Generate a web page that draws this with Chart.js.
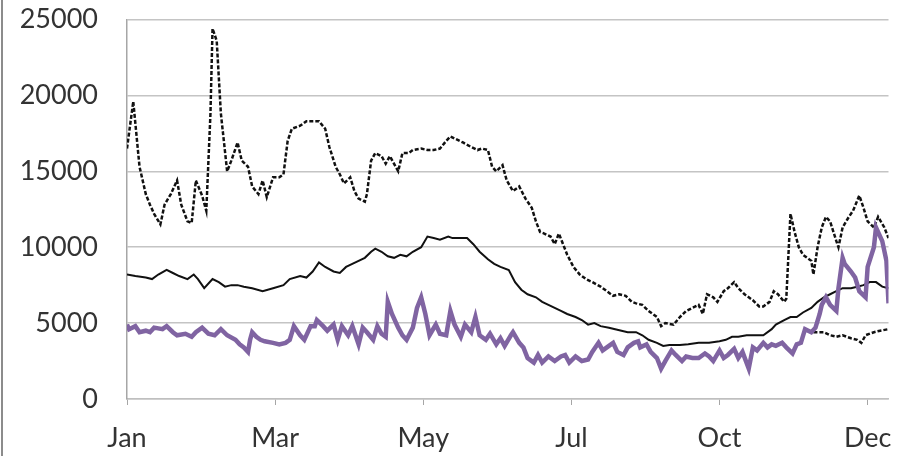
<!DOCTYPE html>
<html>
<head>
<meta charset="utf-8">
<script src="https://cdn.jsdelivr.net/npm/chart.js@4.4.0/dist/chart.umd.min.js"></script>
<style>
  html, body { margin: 0; padding: 0; background: #fff; }
  #wrap { position: relative; width: 912px; height: 456px; }
  #edge { position: absolute; left: 1px; top: 0; width: 2px; height: 456px; background: #8c8c8c; }
</style>
</head>
<body>
<div id="wrap">
  <canvas id="chart" width="912" height="456"></canvas>
  <div id="edge"></div>
</div>
<script>
// x axis: day of year, tick labels as printed
const tickDays = [0, 71, 142, 213, 284, 355];
const tickLabels = ['Jan', 'Mar', 'May', 'Jul', 'Oct', 'Dec'];

// upper dashed series
const dashedDays = [0,3,6,9,11,13,16,18,21,24,26,29,31,33,36,38,40,41,43,45,48,50,53,55,58,60,63,65,67,70,73,75,77,79,83,86,89,92,95,97,100,102,104,107,109,111,114,115,117,119,122,124,126,130,132,135,137,141,144,147,150,153,155,158,161,165,168,170,173,175,177,180,182,185,188,191,194,196,198,200,203,205,207,209,211,214,217,220,223,227,230,233,236,239,242,244,247,250,254,256,258,262,265,268,271,274,276,278,281,283,286,288,291,293,296,298,300,303,305,308,310,312,315,316,318,320,322,324,328,329,331,333,335,337,340,341,343,346,348,351,353,355,358,360,363,365];
const dashedValues = [16500,19600,15300,13500,12800,12200,11500,12800,13500,14400,12800,11700,11600,14400,13400,12400,18800,24400,23600,18800,15000,15700,16900,15700,15300,14000,13500,14400,13300,14600,14600,14800,17000,17800,18000,18300,18300,18300,17800,16600,15300,14800,14200,14600,13700,13200,13000,13500,15700,16200,16000,15500,16000,15000,16200,16200,16400,16500,16400,16400,16500,17000,17300,17100,16900,16600,16400,16500,16400,15300,15000,15400,14400,13700,14000,13200,12600,11700,11000,10900,10700,10200,10900,10200,9500,8700,8200,7900,7700,7400,7100,6800,6900,6800,6400,6300,6200,5800,5400,4800,5000,4900,5400,5800,6000,6200,5600,6900,6700,6400,7100,7300,7700,7300,6900,6700,6500,6100,6100,6400,7100,6900,6400,6600,12200,11000,10000,9500,9100,8200,10000,11300,12000,11700,10400,10000,11300,12000,12400,13400,12600,11700,11300,12000,11300,10600];

// solid black series
const solidDays = [0,4,9,12,15,19,22,25,29,32,34,37,41,44,47,50,53,56,60,65,70,75,78,83,86,89,92,95,99,102,105,108,111,114,117,119,122,125,128,131,134,137,141,144,147,150,154,156,160,163,166,169,173,176,179,183,186,189,192,196,199,202,205,208,211,215,218,221,224,227,231,234,237,240,244,247,250,254,257,260,265,269,274,279,284,287,290,293,297,301,305,309,311,315,318,321,324,328,331,334,337,340,343,347,350,353,356,359,362,365];
const solidValues = [8200,8100,8000,7900,8200,8500,8300,8100,7900,8200,7900,7300,7900,7700,7400,7500,7500,7400,7300,7100,7300,7500,7900,8100,8000,8400,9000,8700,8400,8300,8700,8900,9100,9300,9700,9900,9700,9400,9300,9500,9400,9700,10000,10700,10600,10500,10700,10600,10600,10600,10200,9700,9200,8900,8700,8500,7700,7200,6900,6700,6400,6200,6000,5800,5600,5400,5200,4900,5000,4800,4700,4600,4500,4400,4400,4200,3900,3700,3500,3550,3550,3600,3700,3700,3800,3900,4100,4100,4200,4200,4200,4600,4900,5200,5400,5400,5700,6000,6400,6700,6900,7100,7300,7300,7400,7500,7700,7700,7400,7300];

// purple series
const purpleDays = [0,1,4,6,9,11,13,17,19,22,24,28,31,33,36,39,42,45,48,52,54,56,58,59,60,62,64,66,70,73,76,78,80,83,85,88,90,91,94,96,99,101,103,106,108,111,113,115,118,120,122,124,125,127,130,132,134,137,139,141,143,145,148,150,153,155,157,160,162,165,167,169,172,174,177,179,181,184,185,188,190,192,195,197,199,202,205,208,210,212,215,218,221,223,226,228,231,233,235,238,240,243,245,246,249,251,254,256,258,261,263,266,268,271,274,277,279,281,284,286,288,291,293,295,298,300,302,305,307,309,311,314,316,319,321,323,325,328,330,332,333,335,337,340,341,343,344,347,349,351,354,355,358,359,362,364,365];
const purpleValues = [4900,4600,4800,4400,4500,4400,4700,4600,4800,4400,4200,4300,4100,4400,4700,4300,4200,4600,4200,3900,3600,3400,3100,3900,4400,4100,3900,3800,3700,3600,3700,3900,4800,4200,3900,4800,4800,5200,4800,4500,4900,3900,4800,4200,4800,3600,4700,4400,3900,4800,4300,4100,6400,5600,4700,4200,3900,4700,6000,6700,5600,4200,4900,4300,4200,5800,4900,4100,4900,4400,5400,4200,3900,4300,3600,4000,3500,4200,4400,3700,3400,2700,2400,2900,2400,2800,2500,2800,2900,2400,2800,2500,2600,3100,3700,3200,3500,3700,3100,2900,3400,3700,3800,3400,3600,3100,2700,2000,2500,3200,2900,2500,2800,2700,2700,3000,2800,2500,3200,2700,2900,3300,2700,3100,2000,3400,3200,3700,3400,3600,3500,3700,3400,3000,3600,3700,4600,4400,4700,5600,6200,6700,6200,5800,7300,9300,8900,8400,8000,7100,6700,8700,10000,11300,10400,9100,6300];

// lower dashed series, visible only where the purple line lifts off it
const lowDashedDays = [329,334,337,340,343,347,350,352,354,358,361,365];
const lowDashedValues = [4400,4400,4200,4100,4200,4000,3900,3700,4200,4400,4500,4600];

const yTicks = [0, 5000, 10000, 15000, 20000, 25000];

const pts = (days, vals) => days.map((d, i) => ({x: d, y: vals[i]}));

const font = {family: 'Lato, "Open Sans", sans-serif', size: 27, lineHeight: 1};

new Chart(document.getElementById('chart').getContext('2d'), {
  type: 'line',
  data: {
    datasets: [
      {
        data: pts(purpleDays, purpleValues),
        borderColor: '#8064a2',
        borderWidth: 4.5,
        pointRadius: 0,
        tension: 0
      },
      {
        data: pts(lowDashedDays, lowDashedValues),
        borderColor: '#111',
        borderWidth: 2.5,
        borderDash: [4, 2],
        pointRadius: 0,
        tension: 0
      },
      {
        data: pts(solidDays, solidValues),
        borderColor: '#111',
        borderWidth: 2,
        pointRadius: 0,
        tension: 0
      },
      {
        data: pts(dashedDays, dashedValues),
        borderColor: '#111',
        borderWidth: 2.5,
        borderDash: [4, 2],
        pointRadius: 0,
        tension: 0
      }
    ]
  },
  options: {
    responsive: false,
    animation: false,
    layout: {padding: {top: 0, right: 22, left: 0, bottom: 0}},
    plugins: {legend: {display: false}, tooltip: {enabled: false}},
    scales: {
      x: {
        type: 'linear',
        min: 0,
        max: 365,
        afterBuildTicks: (axis) => { axis.ticks = tickDays.map(v => ({value: v})); },
        afterFit: (axis) => { axis.height = 57; },
        grid: {
          drawOnChartArea: false,
          drawTicks: true,
          tickLength: 6,
          color: '#a6a6a6'
        },
        border: {display: true, color: '#bfbfbf', width: 1.5},
        ticks: {
          autoSkip: false,
          maxRotation: 0,
          padding: 20,
          color: '#333',
          font: font,
          callback: (v) => tickLabels[tickDays.indexOf(v)]
        }
      },
      y: {
        min: 0,
        max: 25000,
        afterBuildTicks: (axis) => { axis.ticks = yTicks.map(v => ({value: v})); },
        afterFit: (axis) => { axis.width = 127; },
        grid: {
          drawTicks: true,
          tickLength: 23,
          tickColor: 'rgba(0,0,0,0)',
          color: '#c4c4c4',
          lineWidth: 1.5
        },
        border: {display: true, color: '#a6a6a6', width: 1.5},
        ticks: {
          padding: 6,
          color: '#333',
          font: font,
          callback: (v) => String(v)
        }
      }
    }
  }
});
</script>
</body>
</html>
